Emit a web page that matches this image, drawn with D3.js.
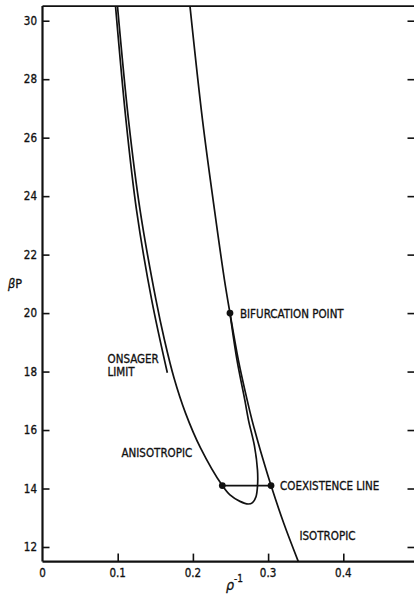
<!DOCTYPE html>
<html><head><meta charset="utf-8">
<script src="https://cdn.jsdelivr.net/npm/d3@7"></script>
<style>
html,body{margin:0;padding:0;background:#fff;}
svg{display:block;}
text{font-family:'DejaVu Sans Condensed','DejaVu Sans',sans-serif;font-stretch:condensed;fill:#111;stroke:#111;stroke-width:0.3px;}
</style></head><body>
<svg id="chart" width="414" height="596"></svg>
<script>
// Axis ticks
const xTicks = [0.1, 0.2, 0.3, 0.4];
const yTicks = [12, 14, 16, 18, 20, 22, 24, 26, 28, 30];

// Isotropic equation of state: [rho^-1, beta P]
const isotropic = [
  [0.1961, 30.5], [0.2128, 26.60], [0.2287, 23.53], [0.2420, 21.13],
  [0.2493, 20.00], [0.2604, 18.40], [0.2721, 17.03], [0.2786, 16.34],
  [0.2858, 15.66], [0.2934, 14.98], [0.3039, 14.10], [0.3207, 12.82],
  [0.3402, 11.50]
];

// Anisotropic branch, from high pressure down through the loop back to the bifurcation point
const anisotropic = [
  [0.0997, 30.5], [0.1144, 26.60], [0.1297, 23.53], [0.1509, 20.45],
  [0.1622, 19.08], [0.1749, 17.78], [0.1902, 16.58], [0.2101, 15.39],
  [0.2391, 14.10], [0.2493, 13.78], [0.2626, 13.56], [0.2737, 13.47],
  [0.2793, 13.52], [0.2839, 13.72], [0.2860, 14.12], [0.2859, 14.63],
  [0.2819, 15.45], [0.2739, 16.34], [0.2690, 17.03], [0.2586, 18.40],
  [0.2493, 20.00]
];

// Onsager limit
const onsager = [
  [0.0971, 30.5], [0.1110, 26.60], [0.1250, 23.53], [0.1452, 20.45], [0.1660, 17.96]
];

// Coexistence tie line and bifurcation point
const coexistence = [[0.2391, 14.10], [0.3039, 14.10]];
const bifurcation = [0.2493, 20.00];

const svg = d3.select('#chart');
const x = d3.scaleLinear().domain([0, 0.5]).range([42.5, 418.5]);
const y = d3.scaleLinear().domain([11.5, 30.5]).range([561.6, 6.1]);
const ink = '#111';

// Frame
const [x0, x1] = x.range();
const [y0, y1] = y.range();
svg.append('line').attr('x1', x0).attr('x2', x1).attr('y1', y1).attr('y2', y1)
  .attr('stroke', ink).attr('stroke-width', 1.6);
svg.append('line').attr('x1', x0).attr('x2', x1).attr('y1', y0).attr('y2', y0)
  .attr('stroke', ink).attr('stroke-width', 2.2);
svg.append('line').attr('x1', x0).attr('x2', x0).attr('y1', y1).attr('y2', y0)
  .attr('stroke', ink).attr('stroke-width', 2.2);
svg.append('line').attr('x1', x1).attr('x2', x1).attr('y1', y1).attr('y2', y0)
  .attr('stroke', ink).attr('stroke-width', 1.6);

// Inward ticks, left and right
const yAxisL = d3.axisRight(y).tickValues(yTicks).tickSize(7).tickFormat('');
svg.append('g').attr('transform', `translate(${x0},0)`).call(yAxisL)
  .call(g => g.select('.domain').remove())
  .call(g => g.selectAll('line').attr('stroke', ink).attr('stroke-width', 1.6));
const yAxisR = d3.axisLeft(y).tickValues(yTicks).tickSize(11).tickFormat('');
svg.append('g').attr('transform', `translate(${x1},0)`).call(yAxisR)
  .call(g => g.select('.domain').remove())
  .call(g => g.selectAll('line').attr('stroke', ink).attr('stroke-width', 1.6));
const xAxis = d3.axisTop(x).tickValues(xTicks).tickSize(8).tickFormat('');
svg.append('g').attr('transform', `translate(0,${y0})`).call(xAxis)
  .call(g => g.select('.domain').remove())
  .call(g => g.selectAll('line').attr('stroke', ink).attr('stroke-width', 1.6));

// Tick labels
const tfs = 11.5;
svg.append('g').selectAll('text').data(yTicks).join('text')
  .attr('x', x0 - 5.5).attr('y', d => y(d)).attr('dy', '0.36em')
  .attr('text-anchor', 'end').attr('font-size', tfs).text(d => d);
svg.append('g').selectAll('text').data([0].concat(xTicks)).join('text')
  .attr('x', d => x(d)).attr('y', 577)
  .attr('text-anchor', 'middle').attr('font-size', tfs)
  .text(d => d === 0 ? '0' : d3.format('.1f')(d));

// Axis titles
svg.append('text').attr('x', 8).attr('y', 287.5).attr('font-size', 12.5)
  .call(t => { t.append('tspan').attr('font-style', 'italic').text('β'); t.append('tspan').text('P'); });
const xt = svg.append('text').attr('x', 226).attr('y', 590).attr('font-size', 14);
xt.append('tspan').attr('font-style', 'italic').text('ρ');
xt.append('tspan').attr('dy', -8).attr('font-size', 10).text('-1');

// Curves
const line = d3.line().x(d => x(d[0])).y(d => y(d[1])).curve(d3.curveCatmullRom.alpha(0.5));
[isotropic, anisotropic, onsager].forEach(pts => {
  svg.append('path').attr('d', line(pts)).attr('fill', 'none')
    .attr('stroke', ink).attr('stroke-width', 1.7).attr('stroke-linejoin', 'round');
});
svg.append('path').attr('d', d3.line().x(d => x(d[0])).y(d => y(d[1]))(coexistence))
  .attr('stroke', ink).attr('stroke-width', 1.7).attr('fill', 'none');

// Marked points
svg.append('g').selectAll('circle').data(coexistence.concat([bifurcation])).join('circle')
  .attr('cx', d => x(d[0])).attr('cy', d => y(d[1])).attr('r', 3.4).attr('fill', ink);

// Annotations
const fs = 11.5;
svg.append('text').attr('x', x(bifurcation[0]) + 10).attr('y', y(bifurcation[1]) + 4.5)
  .attr('font-size', fs).text('BIFURCATION POINT');
svg.append('text').attr('x', 107.5).attr('y', 362.5).attr('font-size', fs).text('ONSAGER');
svg.append('text').attr('x', 107.5).attr('y', 375.5).attr('font-size', fs).text('LIMIT');
svg.append('text').attr('x', 121.5).attr('y', 457).attr('font-size', fs).text('ANISOTROPIC');
svg.append('text').attr('x', x(coexistence[1][0]) + 9).attr('y', y(coexistence[1][1]) + 4.5)
  .attr('font-size', fs).text('COEXISTENCE LINE');
svg.append('text').attr('x', 299.5).attr('y', 539.5).attr('font-size', fs).text('ISOTROPIC');
</script>
</body></html>
